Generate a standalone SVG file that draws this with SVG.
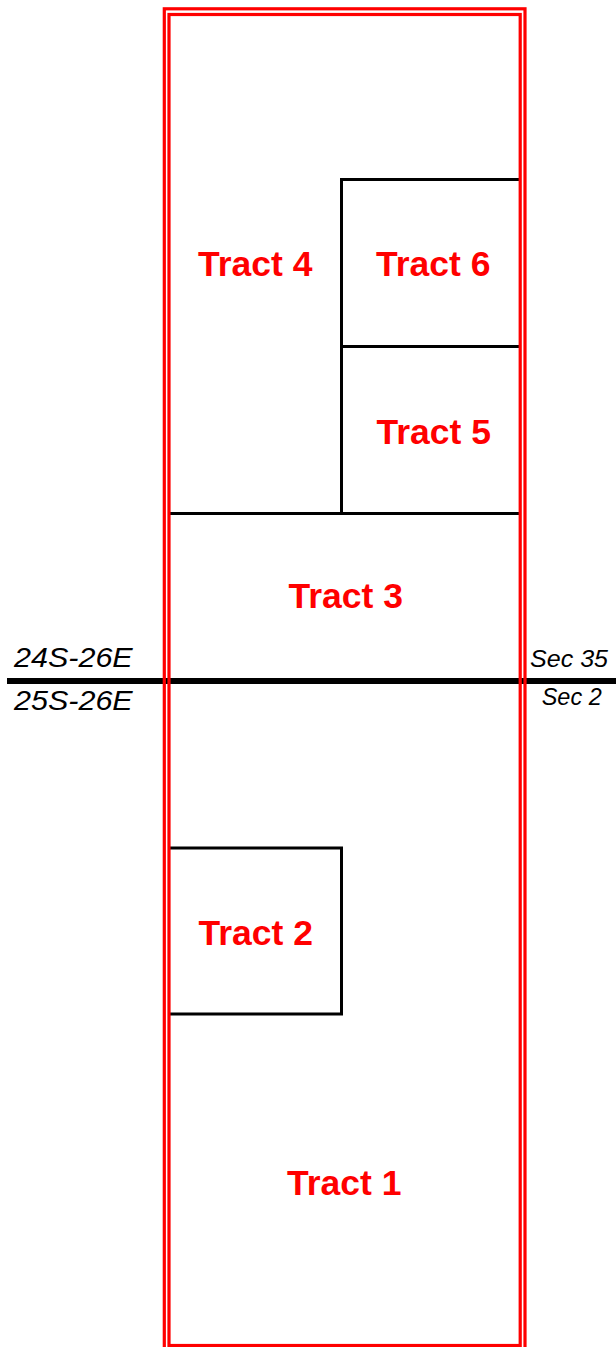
<svg xmlns="http://www.w3.org/2000/svg" width="616" height="1347" viewBox="0 0 616 1347">
<style>
.tract{font-family:"Liberation Sans",Arial,sans-serif;font-weight:bold;font-size:35.5px;fill:#ff0000;text-anchor:middle}
.lbl{font-family:"Liberation Sans",Arial,sans-serif;font-style:italic;fill:#000}
.bline{stroke:#000;stroke-width:3;fill:none}
.red{stroke:#ff0000;stroke-width:3.2;fill:none}
</style>
<rect width="616" height="1347" fill="#fff"/>
<g id="connectors">
<line x1="7" y1="681" x2="616" y2="681" stroke="#000" stroke-width="6"/>
<line class="bline" x1="169" y1="513.5" x2="520" y2="513.5"/>
</g>
<g id="tract6">
<polyline class="bline" points="520,179.5 341.5,179.5 341.5,346.5 520,346.5"/>
<text class="tract" x="433.3" y="275.5">Tract 6</text>
</g>
<g id="tract5">
<line class="bline" x1="341.5" y1="346.5" x2="341.5" y2="513.5"/>
<text class="tract" x="433.7" y="443.5">Tract 5</text>
</g>
<g id="tract4">
<text class="tract" x="255.3" y="275.5">Tract 4</text>
</g>
<g id="tract3">
<text class="tract" x="345.8" y="607.5">Tract 3</text>
</g>
<g id="tract2">
<polyline class="bline" points="169,848 341.5,848 341.5,1014 169,1014"/>
<text class="tract" x="255.8" y="945">Tract 2</text>
</g>
<g id="tract1">
<text class="tract" x="344.2" y="1194.5">Tract 1</text>
</g>
<g id="boundary">
<rect class="red" x="164.3" y="8.8" width="360.7" height="1341"/>
<rect class="red" x="169" y="14.5" width="351.2" height="1331"/>
</g>
<g id="labels">
<text class="lbl" x="14" y="667" font-size="28.5" textLength="118.7" lengthAdjust="spacingAndGlyphs">24S-26E</text>
<text class="lbl" x="14" y="710" font-size="28.5" textLength="118.7" lengthAdjust="spacingAndGlyphs">25S-26E</text>
<text class="lbl" x="530" y="667" font-size="23" textLength="78" lengthAdjust="spacingAndGlyphs">Sec 35</text>
<text class="lbl" x="541.7" y="705" font-size="23" textLength="60" lengthAdjust="spacingAndGlyphs">Sec 2</text>
</g>
</svg>
